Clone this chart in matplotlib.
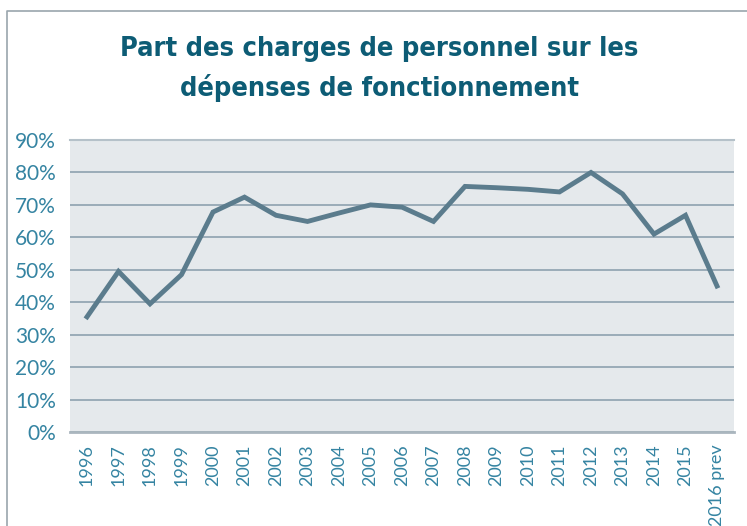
import matplotlib
matplotlib.use("Agg")
import matplotlib.pyplot as plt
from matplotlib.lines import Line2D
from matplotlib.ticker import FuncFormatter

years = ["1996", "1997", "1998", "1999", "2000", "2001", "2002", "2003", "2004",
         "2005", "2006", "2007", "2008", "2009", "2010", "2011", "2012", "2013",
         "2014", "2015", "2016 prev"]
share = [35.5, 49.5, 39.5, 48.5, 67.8, 72.4, 66.8, 64.9, 67.5, 70.0, 69.3, 64.9,
         75.7, 75.3, 74.8, 74.0, 80.0, 73.4, 61.0, 66.8, 45.0]
y_ticks = [0, 10, 20, 30, 40, 50, 60, 70, 80, 90]

title_color = "#0d5c75"
tick_color = "#3584a2"
line_color = "#5b7c8d"
grid_color = "#8ea2af"
bg_color = "#e5e9ec"

fig = plt.figure(figsize=(7.47, 5.26), dpi=100)
ax = fig.add_axes([0.0937, 0.1787, 0.8889, 0.5551])
ax.set_facecolor(bg_color)

x = range(len(years))
ax.plot(x, share, color=line_color, linewidth=3.5, solid_joinstyle="miter", zorder=3)

ax.set_xlim(-0.54, len(years) - 1 + 0.54)
ax.set_ylim(0, 90)
ax.set_yticks(y_ticks)
ax.yaxis.set_major_formatter(FuncFormatter(lambda v, p: f"{v:.0f}%"))
ax.set_xticks(list(x))
ax.set_xticklabels(years, rotation=90, fontsize=13, color=tick_color,
                   family=["Lato", "DejaVu Sans"])
for lab in ax.get_yticklabels():
    lab.set_fontsize(15)
    lab.set_color(tick_color)
    lab.set_family(["Lato", "DejaVu Sans"])

ax.grid(axis="y", color=grid_color, linewidth=1.2, zorder=1)
ax.set_axisbelow(True)
ax.tick_params(length=0, pad=9)
ax.tick_params(axis="y", pad=10)
for side in ["left", "right"]:
    ax.spines[side].set_visible(False)
ax.spines["top"].set_color("#b5c1c9")
ax.spines["top"].set_linewidth(1.5)
ax.spines["bottom"].set_color("#aab6be")
ax.spines["bottom"].set_linewidth(2)

fig.text(0.508, 0.868, "Part des charges de personnel sur les\ndépenses de fonctionnement",
         ha="center", va="center", fontsize=19.5, fontweight="bold", color=title_color,
         family="DejaVu Sans", fontstretch="condensed", linespacing=1.55)

# outer frame
fig.add_artist(Line2D([0.0094, 0.0094, 1.0], [0.0, 1 - 11 / 526, 1 - 11 / 526],
                      transform=fig.transFigure, color="#9aa5ad", linewidth=1.2))

fig.savefig("out.png", dpi=100)
